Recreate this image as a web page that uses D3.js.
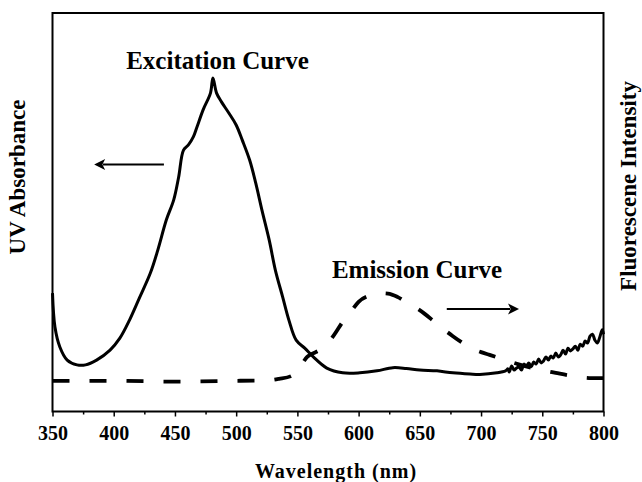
<!DOCTYPE html>
<html>
<head>
<meta charset="utf-8">
<script src="https://cdn.jsdelivr.net/npm/d3@7"></script>
<style>
  html, body { margin: 0; padding: 0; background: #fff; }
  svg { display: block; }
  text { font-family: "Liberation Serif", "Times New Roman", serif; font-weight: bold; fill: #000; }
</style>
</head>
<body>
<svg id="chart" width="642" height="482"></svg>
<script>
// Excitation spectrum (UV absorbance, arbitrary units)
const excitationWavelength = [350,352,356,362,370,377,386,397,405,413,421,430,436,443,449,453,457,461,465,468,473,479,481,484,488,494,500,505,511,516,521,527,532,538,543,549,556,563,574,587,601,615,628,639,650,664,677,691,699,713,720,722,723,725,727,729,731,733,735,737,739,741,743,745,747,749,751,753,755,757,759,761,763,765,767,769,771,773,775,777,779,781,783,785,787,789,791,793,795,797,799,800];
const excitationValue = [0.297,0.212,0.162,0.129,0.117,0.117,0.129,0.154,0.184,0.230,0.285,0.348,0.405,0.481,0.531,0.588,0.656,0.669,0.689,0.714,0.757,0.799,0.837,0.799,0.777,0.749,0.719,0.681,0.631,0.573,0.506,0.430,0.355,0.287,0.230,0.179,0.159,0.137,0.109,0.097,0.097,0.102,0.110,0.108,0.104,0.102,0.097,0.094,0.093,0.097,0.102,0.107,0.099,0.114,0.104,0.109,0.112,0.104,0.119,0.114,0.122,0.112,0.124,0.119,0.132,0.122,0.127,0.137,0.129,0.139,0.134,0.147,0.137,0.142,0.154,0.144,0.159,0.152,0.157,0.164,0.154,0.169,0.164,0.177,0.172,0.189,0.194,0.179,0.172,0.187,0.205,0.194];

// Emission spectrum (fluorescence intensity, arbitrary units)
const emissionWavelength = [350,400,450,500,525,535,545,552,558,565,572,580,587,594,600,610,617,624,632,640,647,654,662,670,677,684,692,700,707,715,730,745,761,775,790,800];
const emissionValue = [0.077,0.077,0.075,0.077,0.078,0.082,0.089,0.112,0.137,0.149,0.162,0.192,0.225,0.252,0.275,0.292,0.297,0.296,0.287,0.272,0.260,0.245,0.225,0.205,0.189,0.174,0.159,0.149,0.142,0.134,0.119,0.107,0.097,0.089,0.084,0.084];

const xTicks = [350,400,450,500,550,600,650,700,750,800];
const xMinorTicks = [375,425,475,525,575,625,675,725,775];

const svg = d3.select("#chart");
const frame = { left: 52.5, right: 603.5, top: 13, bottom: 411.5 };

const x = d3.scaleLinear().domain([350, 800]).range([frame.left, frame.right]);
const yAbs = d3.scaleLinear().domain([0, 1]).range([frame.bottom, frame.top]);
const yFl = d3.scaleLinear().domain([0, 1]).range([frame.bottom, frame.top]);

// Minor ticks
svg.append("g")
  .attr("transform", `translate(0,${frame.bottom})`)
  .call(d3.axisBottom(x).tickValues(xMinorTicks).tickSize(3).tickFormat(""))
  .call(g => g.select(".domain").remove())
  .call(g => g.selectAll("line").attr("stroke-width", 1.5));

// Major ticks and labels
svg.append("g")
  .attr("transform", `translate(0,${frame.bottom})`)
  .call(d3.axisBottom(x).tickValues(xTicks).tickSize(5).tickSizeOuter(0).tickPadding(9).tickFormat(d3.format("d")))
  .call(g => g.select(".domain").remove())
  .call(g => g.selectAll("line").attr("stroke-width", 1.5))
  .call(g => g.selectAll("text")
    .attr("font-family", "Liberation Serif, serif")
    .attr("font-weight", "bold")
    .attr("font-size", 20));

// Frame
svg.append("rect")
  .attr("x", frame.left).attr("y", frame.top)
  .attr("width", frame.right - frame.left).attr("height", frame.bottom - frame.top)
  .attr("fill", "none").attr("stroke", "#000").attr("stroke-width", 2);

const plot = svg.append("g");

const exLine = d3.line()
  .x((d, i) => x(excitationWavelength[i]))
  .y(d => yAbs(d))
  .curve(d3.curveCatmullRom.alpha(0.5));

const emLine = d3.line()
  .x((d, i) => x(emissionWavelength[i]))
  .y(d => yFl(d))
  .curve(d3.curveMonotoneX);

plot.append("path")
  .datum(emissionValue)
  .attr("d", emLine)
  .attr("fill", "none").attr("stroke", "#000")
  .attr("stroke-width", 3.8)
  .attr("stroke-dasharray", "17,20");

plot.append("path")
  .datum(excitationValue)
  .attr("d", exLine)
  .attr("fill", "none").attr("stroke", "#000")
  .attr("stroke-width", 3)
  .attr("stroke-linejoin", "round");

// Arrows pointing to the relevant axes
function arrow(x1, x2, yPos) {
  const dir = Math.sign(x2 - x1);
  const headLen = 11, headHalf = 5.5;
  plot.append("line")
    .attr("x1", x1).attr("x2", x2 - dir * headLen * 0.8)
    .attr("y1", yPos).attr("y2", yPos)
    .attr("stroke", "#000").attr("stroke-width", 2);
  plot.append("path")
    .attr("d", `M${x2},${yPos} L${x2 - dir * headLen},${yPos - headHalf} L${x2 - dir * headLen * 0.75},${yPos} L${x2 - dir * headLen},${yPos + headHalf} Z`)
    .attr("fill", "#000");
}
arrow(x(441), x(384), yAbs(0.620));
arrow(x(672), x(731), yFl(0.257));

// Curve captions
svg.append("text")
  .attr("x", 217.5).attr("y", 69)
  .attr("text-anchor", "middle")
  .attr("font-size", 25)
  .text("Excitation Curve");

svg.append("text")
  .attr("x", 417).attr("y", 278)
  .attr("text-anchor", "middle")
  .attr("font-size", 25)
  .text("Emission Curve");

// Axis titles
svg.append("text")
  .attr("x", 336).attr("y", 478)
  .attr("text-anchor", "middle")
  .attr("font-size", 20)
  .attr("letter-spacing", 1)
  .text("Wavelength (nm)");

svg.append("text")
  .attr("transform", "translate(25,177) rotate(-90)")
  .attr("text-anchor", "middle")
  .attr("font-size", 23)
  .text("UV Absorbance");

svg.append("text")
  .attr("transform", "translate(636,186) rotate(-90)")
  .attr("text-anchor", "middle")
  .attr("font-size", 23)
  .text("Fluorescene Intensity");
</script>
</body>
</html>
